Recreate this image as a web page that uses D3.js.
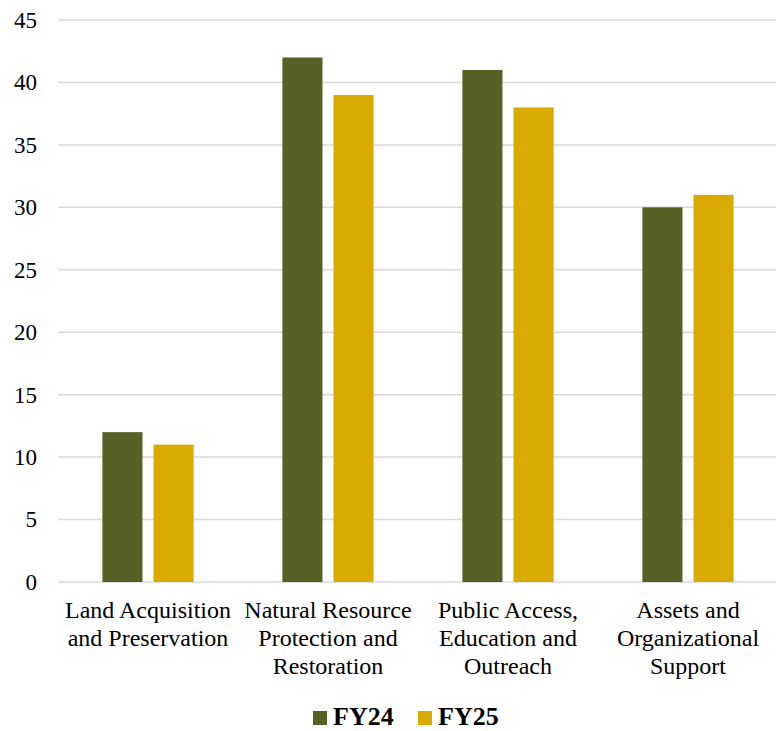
<!DOCTYPE html>
<html><head><meta charset="utf-8">
<script src="https://cdn.jsdelivr.net/npm/d3@7"></script>
<style>body{margin:0;background:#fff}svg{display:block}
svg text{font-family:"Liberation Serif","Times New Roman",Tinos,"DejaVu Serif",serif;}</style>
</head><body>
<script>
const categories = [
  ["Land Acquisition", "and Preservation"],
  ["Natural Resource", "Protection and", "Restoration"],
  ["Public Access,", "Education and", "Outreach"],
  ["Assets and", "Organizational", "Support"]
];
const seriesNames = ["FY24", "FY25"];
const fy24 = [12, 42, 41, 30];
const fy25 = [11, 39, 38, 31];
const yTicks = [0, 5, 10, 15, 20, 25, 30, 35, 40, 45];
const colors = ["#556125", "#D9AB00"];

const W = 776, H = 731;
const m = {l: 58, r: -2, t: 20, b: 149};
const svg = d3.select("body").append("svg").attr("width", W).attr("height", H);

const x0 = d3.scaleBand().domain(d3.range(categories.length)).range([m.l, W - m.r]);
const x1 = d3.scaleBand().domain(seriesNames).range([0, x0.bandwidth()]).paddingInner(0.2157).paddingOuter(0.868);
const y = d3.scaleLinear().domain([0, 45]).range([H - m.b, m.t]);

// gridlines
svg.append("g").selectAll("line").data(yTicks).join("line")
  .attr("x1", m.l).attr("x2", W - m.r)
  .attr("y1", d => y(d)).attr("y2", d => y(d))
  .attr("stroke", "#d9d9d9").attr("stroke-width", 1.5);

// y axis labels
const yAxis = d3.axisLeft(y).tickValues(yTicks).tickSize(0).tickPadding(21);
const ya = svg.append("g").attr("transform", `translate(${m.l},0)`).call(yAxis);
ya.select(".domain").remove();
ya.attr("font-family", null);
ya.selectAll("text").attr("font-size", 23).attr("fill", "#000");

// bars
const series = [fy24, fy25];
const g = svg.append("g");
categories.forEach((c, i) => {
  seriesNames.forEach((s, j) => {
    g.append("rect")
      .attr("x", x0(i) + x1(s))
      .attr("width", x1.bandwidth())
      .attr("y", y(series[j][i]))
      .attr("height", y(0) - y(series[j][i]))
      .attr("fill", colors[j]);
  });
});

// category labels
const xl = svg.append("g");
categories.forEach((lines, i) => {
  const t = xl.append("text")
    .attr("x", x0(i) + x0.bandwidth() / 2)
    .attr("text-anchor", "middle")
    .attr("font-size", 24).attr("fill", "#000");
  lines.forEach((ln, k) => {
    t.append("tspan").attr("x", x0(i) + x0.bandwidth() / 2).attr("y", 618 + k * 28).text(ln);
  });
});

// legend
const leg = svg.append("g");
const legItems = [{n: seriesNames[0], c: colors[0], x: 313}, {n: seriesNames[1], c: colors[1], x: 418}];
legItems.forEach(d => {
  leg.append("rect").attr("x", d.x).attr("y", 711).attr("width", 14).attr("height", 14).attr("fill", d.c);
  leg.append("text").attr("x", d.x + 20).attr("y", 725)
    .attr("font-size", 26).attr("font-weight", "bold").attr("fill", "#000").text(d.n);
});
</script>
</body></html>
